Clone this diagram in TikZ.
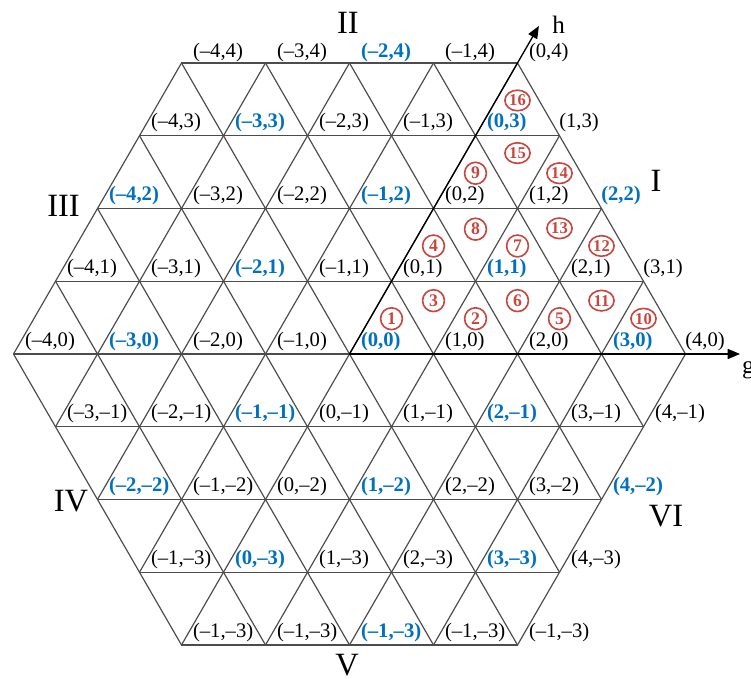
\documentclass[tikz,border=0pt]{standalone}
\usepackage{fontspec}
\setmainfont{Liberation Serif}
\usetikzlibrary{arrows.meta,shapes.geometric}
\definecolor{myblue}{RGB}{0,112,192}
\definecolor{myred}{RGB}{200,70,62}
\newcommand\sgnum[1]{\ifnum#1<0 –\number\numexpr 0-(#1)\relax\else#1\fi}
\newcommand\gridlab[3]{\node[lab,#3] (L#1x#2) at (#1,#2) {(\sgnum{#1},\sgnum{#2})};}
\tikzset{
  gridline/.style={line width=0.4pt, black!70},
  axisline/.style={line width=0.45pt, black, -{Triangle[length=4.2pt,width=3.4pt]}},
  lab/.style={anchor=base west, inner sep=0pt, font=\fontsize{7}{8}\selectfont, xshift=0.13cm, yshift=0.095cm},
  bl/.style={text=myblue, font=\fontsize{7}{8}\selectfont\bfseries},
  redge/.style={xshift=-0.14cm},
  toprow/.style={yshift=-0.03cm},
  cnum/.style={circle, draw=myred, text=myred, line width=0.55pt, minimum size=0.26cm, inner sep=0pt, font=\fontsize{6}{6}\selectfont\bfseries},
  cnumb/.style={ellipse, draw=myred, text=myred, line width=0.55pt, minimum width=0.3cm, minimum height=0.245cm, inner sep=0pt, font=\fontsize{5.6}{6}\selectfont\bfseries},
  roman/.style={font=\fontsize{11}{12}\selectfont, inner sep=0pt},
  axlab/.style={font=\fontsize{8.5}{9}\selectfont, inner sep=0pt}
}
\begin{document}
\begin{tikzpicture}[x={(1cm,0cm)}, y={(0.5cm,0.8660254cm)}]
\useasboundingbox (-4.1607cm,-3.869cm) rectangle (4.7798cm,4.2143cm);
% grid
\foreach \h in {-4,...,4}{
  \pgfmathtruncatemacro\gmin{max(-4,-4-\h)}
  \pgfmathtruncatemacro\gmax{min(4,4-\h)}
  \draw[gridline] (\gmin,\h) -- (\gmax,\h);
}
\foreach \g in {-4,...,4}{
  \pgfmathtruncatemacro\hmin{max(-4,-4-\g)}
  \pgfmathtruncatemacro\hmax{min(4,4-\g)}
  \draw[gridline] (\g,\hmin) -- (\g,\hmax);
}
\foreach \s in {-4,...,4}{
  \pgfmathtruncatemacro\gmin{max(-4,\s-4)}
  \pgfmathtruncatemacro\gmax{min(4,\s+4)}
  \pgfmathtruncatemacro\ha{\s-\gmin}
  \pgfmathtruncatemacro\hb{\s-\gmax}
  \draw[gridline] (\gmin,\ha) -- (\gmax,\hb);
}
% axes
\coordinate (O) at (0,0);
\coordinate (gtip) at (4.65,0);
\coordinate (htip) at (0,4.51);
\draw[axisline] (O) -- (gtip);
\draw[axisline] (O) -- (htip);
\node[axlab] (glab) at (4.75cm,-0.19cm) {g};
\node[axlab] (hlab) at (2.49cm,3.92cm) {h};
% labels row 4
\gridlab{-4}{4}{toprow}
\gridlab{-3}{4}{toprow}
\gridlab{-2}{4}{toprow,bl}
\gridlab{-1}{4}{toprow}
\gridlab{0}{4}{toprow}
% row 3
\gridlab{-4}{3}{}
\gridlab{-3}{3}{bl}
\gridlab{-2}{3}{}
\gridlab{-1}{3}{}
\gridlab{0}{3}{bl}
\gridlab{1}{3}{redge}
% row 2
\gridlab{-4}{2}{bl}
\gridlab{-3}{2}{}
\gridlab{-2}{2}{}
\gridlab{-1}{2}{bl}
\gridlab{0}{2}{}
\gridlab{1}{2}{}
\gridlab{2}{2}{bl,redge}
% row 1
\gridlab{-4}{1}{}
\gridlab{-3}{1}{}
\gridlab{-2}{1}{bl}
\gridlab{-1}{1}{}
\gridlab{0}{1}{}
\gridlab{1}{1}{bl}
\gridlab{2}{1}{}
\gridlab{3}{1}{redge}
% row 0
\gridlab{-4}{0}{}
\gridlab{-3}{0}{bl}
\gridlab{-2}{0}{}
\gridlab{-1}{0}{}
\gridlab{0}{0}{bl}
\gridlab{1}{0}{}
\gridlab{2}{0}{}
\gridlab{3}{0}{bl}
\gridlab{4}{0}{redge}
% row -1
\gridlab{-3}{-1}{}
\gridlab{-2}{-1}{}
\gridlab{-1}{-1}{bl}
\gridlab{0}{-1}{}
\gridlab{1}{-1}{}
\gridlab{2}{-1}{bl}
\gridlab{3}{-1}{}
\gridlab{4}{-1}{}
% row -2
\gridlab{-2}{-2}{bl}
\gridlab{-1}{-2}{}
\gridlab{0}{-2}{}
\gridlab{1}{-2}{bl}
\gridlab{2}{-2}{}
\gridlab{3}{-2}{}
\gridlab{4}{-2}{bl}
% row -3
\gridlab{-1}{-3}{}
\gridlab{0}{-3}{bl}
\gridlab{1}{-3}{}
\gridlab{2}{-3}{}
\gridlab{3}{-3}{bl}
\gridlab{4}{-3}{}
% row -4 (printed as in the original)
\node[lab] (L0x-4) at (0,-4) {(–1,–3)};
\node[lab] (L1x-4) at (1,-4) {(–1,–3)};
\node[lab,bl] (L2x-4) at (2,-4) {(–1,–3)};
\node[lab] (L3x-4) at (3,-4) {(–1,–3)};
\node[lab] (L4x-4) at (4,-4) {(–1,–3)};
% circled numbers: up triangles
\node[cnum]  (c1)  at ([shift={(0.5cm,0.42cm)}]0,0) {1};
\node[cnum]  (c2)  at ([shift={(0.5cm,0.42cm)}]1,0) {2};
\node[cnum]  (c5)  at ([shift={(0.5cm,0.42cm)}]2,0) {5};
\node[cnumb] (c10) at ([shift={(0.5cm,0.42cm)}]3,0) {10};
\node[cnum]  (c4)  at ([shift={(0.5cm,0.42cm)}]0,1) {4};
\node[cnum]  (c7)  at ([shift={(0.5cm,0.42cm)}]1,1) {7};
\node[cnumb] (c12) at ([shift={(0.5cm,0.42cm)}]2,1) {12};
\node[cnum]  (c9)  at ([shift={(0.5cm,0.42cm)}]0,2) {9};
\node[cnumb] (c14) at ([shift={(0.5cm,0.42cm)}]1,2) {14};
\node[cnumb] (c16) at ([shift={(0.5cm,0.42cm)}]0,3) {16};
% circled numbers: down triangles
\node[cnum]  (c3)  at ([yshift=0.635cm]1,0) {3};
\node[cnum]  (c6)  at ([yshift=0.635cm]2,0) {6};
\node[cnumb] (c11) at ([yshift=0.635cm]3,0) {11};
\node[cnum]  (c8)  at ([yshift=0.62cm]1,1) {8};
\node[cnumb] (c13) at ([yshift=0.63cm]2,1) {13};
\node[cnumb] (c15) at ([yshift=0.66cm]1,2) {15};
% sector numerals
\node[roman] (sI)   at (3.649cm,2.060cm) {I};
\node[roman] (sII)  at (-0.018cm,3.946cm) {II};
\node[roman] (sIII) at (-3.405cm,1.762cm) {III};
\node[roman] (sIV)  at (-3.315cm,-1.75cm) {IV};
\node[roman] (sV)   at (-0.03cm,-3.702cm) {V};
\node[roman] (sVI)  at (3.768cm,-1.929cm) {VI};
\end{tikzpicture}
\end{document}
